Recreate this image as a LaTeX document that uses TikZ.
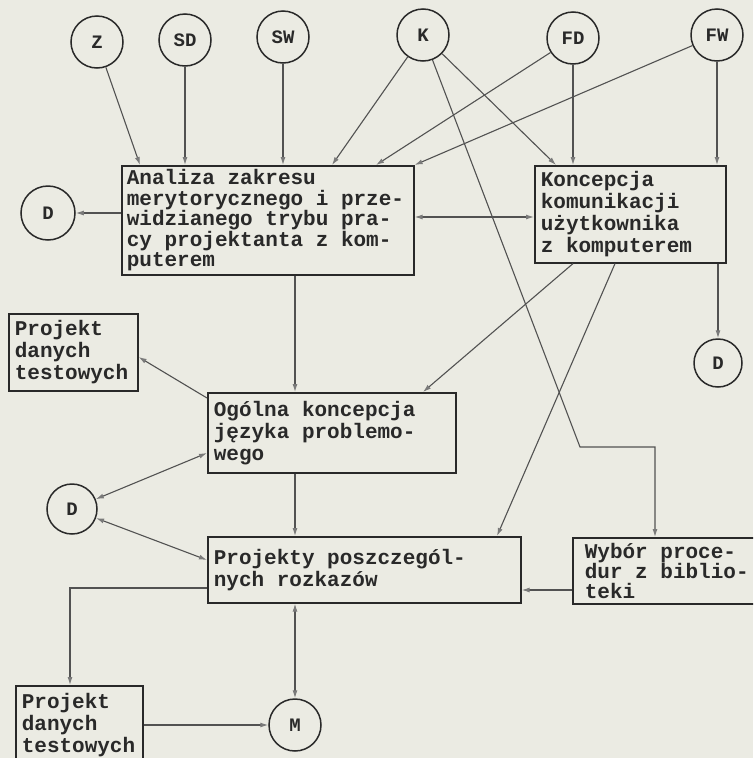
\documentclass[tikz,border=0pt]{standalone}
\usepackage{fontspec}
\usetikzlibrary{arrows.meta,calc}
\newfontfamily\tw{Liberation Mono}[WordSpace={1,0,0}]
\definecolor{paper}{rgb}{0.92,0.92,0.89}
\definecolor{ink}{rgb}{0.16,0.16,0.16}
\definecolor{wire}{rgb}{0.32,0.32,0.32}
\definecolor{tip}{rgb}{0.48,0.48,0.48}

\begin{document}
\begin{tikzpicture}[x=1pt,y=-1pt,
  box/.style={draw=ink,line width=1.6pt,anchor=north west,inner xsep=6pt,inner ysep=0pt,
    align=flush left,text=ink,font=\tw\bfseries\fontsize{21}{22}\selectfont},
  circ/.style={draw=ink,circle,line width=1.5pt,inner sep=0pt,minimum size=52pt,
    text=ink,font=\tw\bfseries\fontsize{19}{19}\selectfont},
  wire/.style={draw=wire,line width=1.1pt},
  arr/.style={wire,-{Latex[length=8pt,width=5pt,color=tip]}},
  darr/.style={wire,{Latex[length=8pt,width=5pt,color=tip]}-{Latex[length=8pt,width=5pt,color=tip]}},
]
\clip (0,0) rectangle (753,758);
\fill[paper] (0,0) rectangle (753,758);

% source circles along the top
\node[circ] (z)  at (97,42)  {Z};
\node[circ] (sd) at (185,40) {SD};
\node[circ] (sw) at (283,37) {SW};
\node[circ] (k)  at (423,35) {K};
\node[circ] (fd) at (573,38) {FD};
\node[circ] (fw) at (717,35) {FW};

% work-step boxes
\node[box,inner xsep=5pt,text width=282pt,minimum height=109pt,
      font=\tw\bfseries\fontsize{21}{20.5}\selectfont] (ana) at (121,165)
  {Analiza zakresu\\merytorycznego i prze-\\widzianego trybu pra-\\cy projektanta z kom-\\puterem};
\node[box,text width=179pt,minimum height=97pt] (kon) at (534,165)
  {Koncepcja\\komunikacji\\użytkownika\\z komputerem};
\node[box,text width=117pt,minimum height=77pt] (pdt1) at (8,313)
  {Projekt\\danych\\testowych};
\node[box,text width=236pt,minimum height=80pt] (ogl) at (207,392)
  {Ogólna koncepcja\\języka problemo-\\wego};
\node[box,text width=301pt,minimum height=66pt] (proj) at (207,536)
  {Projekty poszczegól-\\nych rozkazów};
\node[box,inner xsep=12pt,text width=169pt,minimum height=66pt,
      font=\tw\bfseries\fontsize{21}{20}\selectfont] (wyb) at (572,537)
  {Wybór proce-\\dur z biblio-\\teki};
\node[box,text width=115pt,minimum height=78pt] (pdt2) at (15,685)
  {Projekt\\danych\\testowych};

% sink circles
\node[circ,minimum size=54pt] (dl) at (48,213) {D};
\node[circ,minimum size=48pt] (dr) at (718,363) {D};
\node[circ,minimum size=50pt] (dm) at (72,509) {D};
\node[circ] (m) at (295,725) {M};

% helper points for connector ends
\coordinate (zin)  at (140,165);
\coordinate (kin)  at (332,165);
\coordinate (fdin) at (376,165);
\coordinate (kkin) at (556,165);
\coordinate (hl)   at (0,217);
\coordinate (vx)   at (295,0);
\coordinate (ko1)  at (573,0);
\coordinate (ko2)  at (423,392);
\coordinate (kp1)  at (615,0);
\coordinate (kp2)  at (497,536);
\coordinate (kb1)  at (580,447);
\coordinate (kb2)  at (655,447);
\coordinate (o1)   at (0,398);
\coordinate (p1)   at (0,357);
\coordinate (o2)   at (0,453);
\coordinate (o3)   at (0,560);
\coordinate (hy)   at (0,590);
\coordinate (hz)   at (0,588);
\coordinate (lx)   at (70,0);

% inputs from the top circles
\draw[arr] (z) -- (zin);
\draw[arr] (sd) -- (sd |- ana.north);
\draw[arr] (sw) -- (sw |- ana.north);
\draw[arr] (k) -- (kin);
\draw[arr] (fd) -- (fdin);
\draw[arr] (fw) -- (ana.north east);
\draw[arr] (k) -- (kkin);
\draw[arr] (fd) -- (fd |- kon.north);
\draw[arr] (fw) -- (fw |- kon.north);
\draw[arr] (k) -- (kb1) -- (kb2) -- (wyb.north -| kb2);

% links between the steps
\draw[darr] (ana.east |- hl) -- (kon.west |- hl);
\draw[arr] (ana.west |- dl) -- (dl);
\draw[arr] (kon.south -| dr) -- (dr);
\draw[arr] (ana.south -| vx) -- (ogl.north -| vx);
\draw[arr] (kon.south -| ko1) -- (ko2);
\draw[arr] (kon.south -| kp1) -- (kp2);
\draw[arr] (ogl.west |- o1) -- (pdt1.east |- p1);
\draw[darr] (dm) -- (ogl.west |- o2);
\draw[darr] (dm) -- (proj.west |- o3);
\draw[arr] (ogl.south -| vx) -- (proj.north -| vx);
\draw[arr] (wyb.west |- hy) -- (proj.east |- hy);
\draw[arr] (proj.west |- hz) -- (lx |- hz) -- (pdt2.north -| lx);
\draw[darr] (proj.south -| vx) -- (m);
\draw[arr] (pdt2.east |- m) -- (m);
\end{tikzpicture}
\end{document}
